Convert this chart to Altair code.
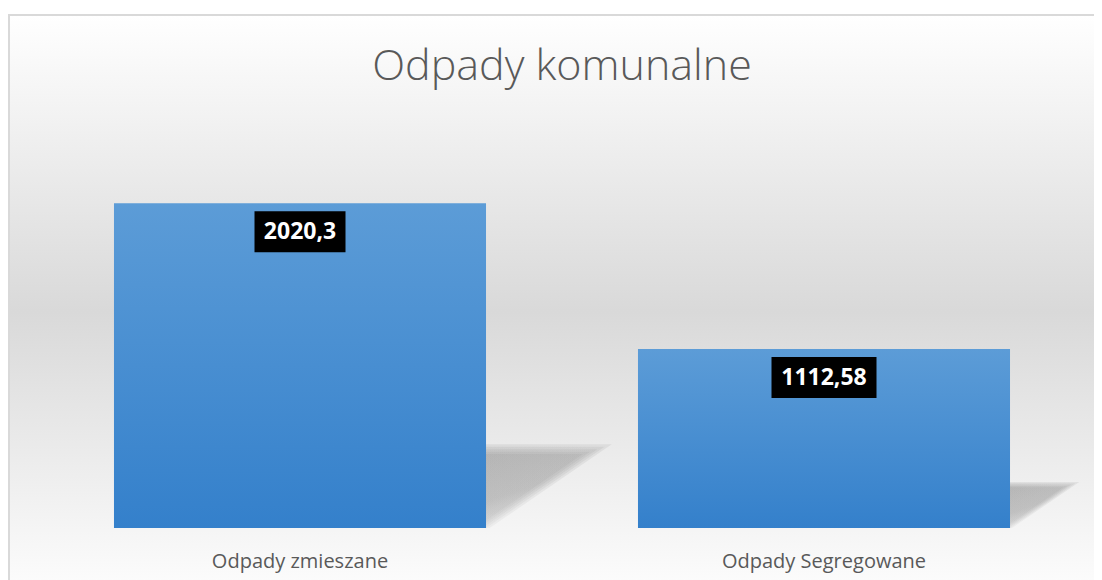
import altair as alt
import pandas as pd

# ---- data ----
categories = ["Odpady zmieszane", "Odpady Segregowane"]
values = [2020.3, 1112.58]
value_labels = ["2020,3", "1112,58"]
title_text = "Odpady komunalne"
axis_max = 2500

# ---- styling ----
W, H = 1048, 402
FONT = "Open Sans"
TEXT_COLOR = "#595959"
box_widths = [91, 105]

df = pd.DataFrame({"category": categories, "value": values, "label": value_labels})

x_enc = alt.X(
    "category:N",
    sort=categories,
    scale=alt.Scale(paddingInner=0.29, paddingOuter=0.145),
    axis=alt.Axis(title=None, domain=False, ticks=False, labelAngle=0,
                  labelFont=FONT, labelFontSize=20, labelColor=TEXT_COLOR,
                  labelPadding=23, labelLimit=400, zindex=1),
)
y_enc = alt.Y("value:Q", scale=alt.Scale(domain=[0, axis_max], nice=False), axis=None)

bg_grad = alt.Gradient(
    gradient="linear", x1=0, x2=0, y1=0, y2=1,
    stops=[alt.GradientStop(offset=0, color="#ffffff"),
           alt.GradientStop(offset=0.5, color="#d9d9d9"),
           alt.GradientStop(offset=1, color="#ffffff")],
)
bar_grad = alt.Gradient(
    gradient="linear", x1=0, x2=0, y1=0, y2=1,
    stops=[alt.GradientStop(offset=0, color="#5c9cd7"),
           alt.GradientStop(offset=1, color="#3480cb")],
)
shadow_grad = alt.Gradient(
    gradient="linear", x1=0, x2=0.5, y1=0, y2=1,
    stops=[alt.GradientStop(offset=0, color="#8c8c8c"),
           alt.GradientStop(offset=0.55, color="#9c9c9c"),
           alt.GradientStop(offset=1, color="#dedede")],
)

bg = alt.Chart(alt.Data(values=[{"bg": 1}])).mark_rect(
    fill=bg_grad, stroke="#d9d9d9", strokeWidth=2
).encode(x=alt.value(-29), x2=alt.value(W + 60), y=alt.value(-111), y2=alt.value(H + 80))


def shadow_path(d):
    e = 1.5 * d
    top = -(1 + d)
    return f"M0,0 L{e:.3f},0 L{1.46 * (1 + d) + e:.3f},{top:.3f} L0,{top:.3f} Z"


shadow_base = alt.Chart(df).transform_calculate(
    zero="0",
    shadow_size=f"4*pow(0.25*datum.value*{H / axis_max},2)",
)
shadows = [
    shadow_base.mark_point(
        shape=shadow_path(d), filled=True, opacity=0.16, strokeWidth=0,
        xOffset=186, fill=shadow_grad,
    ).encode(
        x=x_enc,
        y=alt.Y("zero:Q", scale=alt.Scale(domain=[0, axis_max], nice=False), axis=None),
        size=alt.Size("shadow_size:Q", scale=None, legend=None),
    )
    for d in [-0.09, -0.06, -0.03, 0.0, 0.03]
]

bars = alt.Chart(df).mark_bar(fill=bar_grad).encode(x=x_enc, y=y_enc)

boxes = [
    alt.Chart(df).transform_filter(alt.datum.category == cat).mark_bar(
        color="#000000", width=w, yOffset=8, y2Offset=49
    ).encode(x=x_enc, y=y_enc, y2="value:Q")
    for cat, w in zip(categories, box_widths)
]

labels = alt.Chart(df).mark_text(
    font=FONT, fontSize=23, fontWeight="bold", color="#ffffff",
    baseline="middle", yOffset=28.5,
).encode(x=x_enc, y=y_enc, text="label:N")

title = alt.Chart(alt.Data(values=[{"t": title_text}])).mark_text(
    font=FONT, fontSize=43, fontWeight=300, color=TEXT_COLOR,
    align="center", baseline="alphabetic",
).encode(x=alt.value(W / 2), y=alt.value(-46), text="t:N")

chart = alt.layer(bg, *shadows, bars, *boxes, labels, title).properties(
    width=W, height=H,
    padding={"left": 30, "top": 118, "right": 8, "bottom": 52},
    autosize=alt.AutoSizeParams(type="none"),
    background="#ffffff",
).configure_view(stroke=None)

chart.save("out.html", embed_options={"renderer": "svg", "actions": False})
